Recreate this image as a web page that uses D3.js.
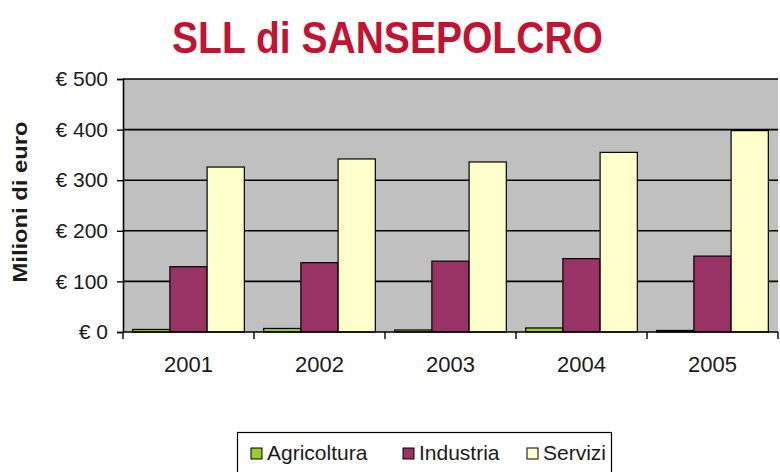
<!DOCTYPE html>
<html>
<head>
<meta charset="utf-8">
<script src="https://cdn.jsdelivr.net/npm/d3@7"></script>
<style>
  html, body { margin: 0; padding: 0; background: #ffffff; }
  svg { display: block; font-family: Arial, "Liberation Sans", sans-serif; }
</style>
</head>
<body>
<svg id="chart" width="780" height="472"></svg>
<script>
// Valore aggiunto per settore, SLL di Sansepolcro (milioni di euro)
const years = ["2001", "2002", "2003", "2004", "2005"];
const seriesNames = ["Agricoltura", "Industria", "Servizi"];
const agricoltura = [5, 7, 4, 8, 3];
const industria = [129, 137, 140, 145, 150];
const servizi = [326, 342, 336, 355, 398];
const yTicks = [0, 100, 200, 300, 400, 500];
const colors = ["#99cc33", "#993366", "#ffffcc"];

const values = [agricoltura, industria, servizi];
const FONT = "Arial, 'Liberation Sans', sans-serif";

const svg = d3.select("#chart");
const plot = { left: 123, right: 778, top: 79, bottom: 332 };

const x = d3.scaleBand().domain(years).range([plot.left, plot.right]).paddingInner(0).paddingOuter(0);
const xInner = d3.scaleBand().domain(seriesNames)
  .range([0, x.bandwidth()]).paddingInner(0).paddingOuter(0.26);
const y = d3.scaleLinear().domain([0, 500]).range([plot.bottom, plot.top]);

// Title (tall, narrow bold lettering)
svg.append("text")
  .attr("x", 172).attr("y", 53)
  .attr("font-size", 44).attr("font-weight", "bold")
  .attr("fill", "#c41232")
  .attr("textLength", 431).attr("lengthAdjust", "spacingAndGlyphs")
  .text("SLL di SANSEPOLCRO");

// Plot area background
svg.append("rect")
  .attr("x", plot.left).attr("y", plot.top)
  .attr("width", plot.right - plot.left).attr("height", plot.bottom - plot.top)
  .attr("fill", "#c0c0c0");

// Gridlines
svg.append("g").selectAll("line")
  .data(yTicks.filter(d => d > 0))
  .join("line")
  .attr("x1", plot.left).attr("x2", plot.right)
  .attr("y1", d => y(d)).attr("y2", d => y(d))
  .attr("stroke", "#000").attr("stroke-width", 1.6);

// Bars
const groups = svg.append("g").selectAll("g")
  .data(years)
  .join("g")
  .attr("transform", d => `translate(${x(d)},0)`);

groups.selectAll("rect")
  .data((yr, i) => seriesNames.map((s, k) => ({ s, k, v: values[k][i] })))
  .join("rect")
  .attr("x", d => xInner(d.s))
  .attr("width", xInner.bandwidth())
  .attr("y", d => y(d.v))
  .attr("height", d => y(0) - y(d.v))
  .attr("fill", d => colors[d.k])
  .attr("stroke", "#000").attr("stroke-width", 1.2);

// Y axis
const yAxis = d3.axisLeft(y).tickValues(yTicks).tickSize(6).tickPadding(9)
  .tickFormat(d => "€ " + d);
const gy = svg.append("g").attr("transform", `translate(${plot.left},0)`).call(yAxis);
gy.attr("font-family", FONT).attr("font-size", 21);
gy.select(".domain").attr("stroke", "#000").attr("stroke-width", 1.6);
gy.selectAll(".tick line").attr("stroke", "#000").attr("stroke-width", 1.4);
gy.selectAll(".tick text").attr("font-size", 21).attr("fill", "#1a1a1a");

// X axis: ticks at category boundaries
const xAxisG = svg.append("g");
xAxisG.append("line")
  .attr("x1", plot.left).attr("x2", plot.right)
  .attr("y1", plot.bottom).attr("y2", plot.bottom)
  .attr("stroke", "#000").attr("stroke-width", 1.6);
xAxisG.selectAll("line.tick")
  .data(years.map(d => x(d)).concat([x(years[years.length - 1]) + x.bandwidth()]))
  .join("line").attr("class", "tick")
  .attr("x1", d => d).attr("x2", d => d)
  .attr("y1", plot.bottom).attr("y2", plot.bottom + 7)
  .attr("stroke", "#000").attr("stroke-width", 1.4);
xAxisG.selectAll("text")
  .data(years)
  .join("text")
  .attr("x", d => x(d) + x.bandwidth() / 2)
  .attr("y", 372)
  .attr("text-anchor", "middle")
  .attr("font-size", 22).attr("fill", "#1a1a1a")
  .text(d => d);

// Y axis title
svg.append("text")
  .attr("transform", "translate(27,202) rotate(-90)")
  .attr("text-anchor", "middle")
  .attr("font-size", 20).attr("font-weight", "bold").attr("fill", "#1a1a1a")
  .attr("textLength", 161).attr("lengthAdjust", "spacingAndGlyphs")
  .text("Milioni di euro");

// Legend
const legend = svg.append("g");
legend.append("rect")
  .attr("x", 237.5).attr("y", 432.5)
  .attr("width", 374).attr("height", 50)
  .attr("fill", "#fff").attr("stroke", "#000").attr("stroke-width", 1.2);
const legendX = [251, 403, 527];
const items = legend.selectAll("g.item")
  .data(seriesNames)
  .join("g").attr("class", "item")
  .attr("transform", (d, i) => `translate(${legendX[i]},448)`);
items.append("rect")
  .attr("width", 11).attr("height", 11)
  .attr("fill", (d, i) => colors[i])
  .attr("stroke", "#000").attr("stroke-width", 1);
items.append("text")
  .attr("x", 16).attr("y", 12)
  .attr("font-size", 21).attr("fill", "#1a1a1a")
  .text(d => d);
</script>
</body>
</html>
